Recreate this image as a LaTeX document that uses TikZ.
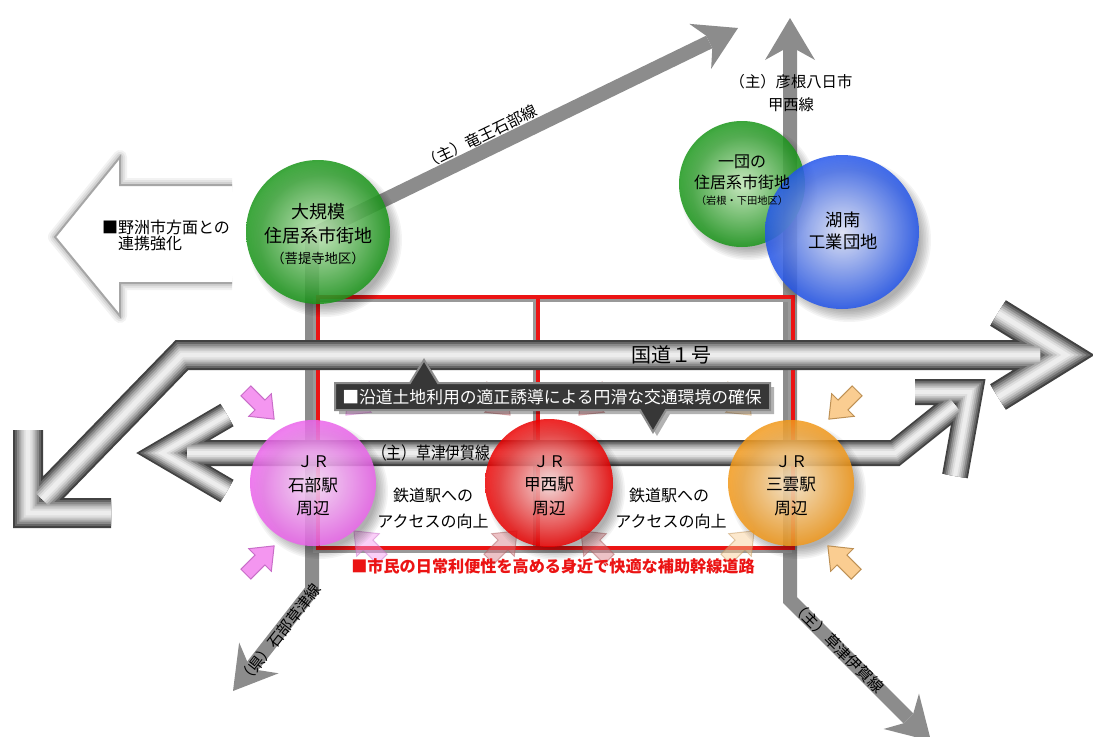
\documentclass[tikz,border=0pt]{standalone}
\usepackage{fontspec}
\usepackage{graphicx}
\newfontfamily\jp{Noto Sans CJK JP}
\usetikzlibrary{calc}
\definecolor{roadgray}{RGB}{140,140,140}
\definecolor{netred}{RGB}{235,20,20}
\definecolor{boxfill}{RGB}{55,55,55}
\definecolor{pinkA}{RGB}{244,150,240}
\definecolor{pinkB}{RGB}{200,110,200}
\definecolor{orA}{RGB}{250,205,145}
\definecolor{orB}{RGB}{190,145,85}
\definecolor{redA}{RGB}{215,120,130}
\definecolor{redB}{RGB}{170,90,90}
\definecolor{gIn}{RGB}{205,242,195}
\definecolor{gOut}{RGB}{25,150,25}
\definecolor{bIn}{RGB}{232,236,255}
\definecolor{bOut}{RGB}{35,85,235}
\definecolor{pIn}{RGB}{255,228,255}
\definecolor{pOut}{RGB}{235,100,235}
\definecolor{rIn}{RGB}{255,228,228}
\definecolor{rOut}{RGB}{235,0,0}
\definecolor{oIn}{RGB}{255,236,205}
\definecolor{oOut}{RGB}{242,152,25}
\newcommand\tubedraw[2]{\foreach \ff/\cc in {1/26,0.86/40,0.72/54,0.58/67,0.44/78,0.30/87,0.16/93}{\draw[line width=\ff*#1*0.75pt, color=white!\cc!black, line join=miter, miter limit=10] #2;}}
\newcommand\headat[2]{\fill[roadgray, shift={#1}, rotate=#2] (0,0) -- (-42,-25) -- (-32,-7) -- (-32,7) -- (-42,25) -- cycle;}
\newcommand\blockarrow[4]{\filldraw[fill=#3, draw=#4, line width=0.75pt, line join=miter, shift={#1}, rotate=#2] (-20,-7) -- (0,-7) -- (0,-16) -- (20,0) -- (0,16) -- (0,7) -- (-20,7) -- cycle;}
\newcommand\ball[5]{\foreach \kk in {0,...,7}{\fill[black, opacity=0.045] ({#1+7},{#2+8}) circle ({#3+5-1.6*\kk});}
  \shade[inner color=#4, outer color=#5, opacity=0.85] (#1,#2) circle (#3);}
\begin{document}
\begin{tikzpicture}[x=0.75pt,y=-0.75pt,
  every node/.style={inner sep=0pt, outer sep=0pt, font=\jp},
  road/.style={line width=10.5pt, draw=roadgray},
  redline/.style={line width=3pt, draw=netred},
  redshadow/.style={line width=3.5pt, draw=black!40}]
\useasboundingbox (0,0) rectangle (1093,736);
\clip (0,0) rectangle (1093,736);
\fill[white] (0,0) rectangle (1093,736);

% left hollow arrow
\foreach \ww/\oo in {14/0.05,10/0.06,6/0.08}{\draw[black, opacity=\oo, line width=\ww*0.75pt, line join=round] (232,185) -- (120,185) -- (120,157) -- (55,237) -- (120,316) -- (120,283) -- (232,283);}
\filldraw[fill=white, draw=black!35, line width=1.5pt, line join=miter] (232,185) -- (120,185) -- (120,157) -- (55,237) -- (120,316) -- (120,283) -- (232,283);

% gray roads
\coordinate (gC) at (318,232);
\coordinate (tipA) at (738,28);
\draw[road] (gC) -- ($(tipA)!24pt!(gC)$);
\headat{(tipA)}{25.9}
\coordinate (tipV) at (790,18);
\coordinate (bendR) at (790,600);
\coordinate (tipR) at (931,741);
\draw[road, line join=miter] ($(tipV)!24pt!(bendR)$) -- (bendR) -- ($(tipR)!24pt!(bendR)$);
\headat{(tipV)}{90}
\headat{(tipR)}{-45}
\coordinate (lTop) at (312,232);
\coordinate (bendL) at (312,590);
\coordinate (tipL) at (233,691);
\draw[road, line join=miter] (lTop) -- (bendL) -- ($(tipL)!24pt!(bendL)$);
\headat{(tipL)}{232}

% red network
\draw[redshadow, shift={(-3,3)}] (318,297) rectangle (793,548) (538,297) -- (538,548);
\draw[redline] (318,297) rectangle (793,548) (538,297) -- (538,548);

% tubes
\tubedraw{30}{(28,430) -- (28,513) -- (111,513) (42,499) -- (182,355) -- (1040,355) (998,313) -- (1066,355) -- (998,397)}
\tubedraw{26}{(227,415) -- (162,453) -- (227,491) (187,453) -- (895,453) -- (955,405) (915,392) -- (970,392) -- (955,476)}

% faded small arrows
\begin{scope}[opacity=0.45]
\blockarrow{(360,401)}{-135}{pinkA}{pinkB}
\blockarrow{(496,401)}{-45}{redA}{redB}
\blockarrow{(593,401)}{-135}{redA}{redB}
\blockarrow{(737,401)}{-45}{orA}{orB}
\blockarrow{(368,545)}{135}{pinkA}{pinkB}
\blockarrow{(503,545)}{45}{redA}{redB}
\blockarrow{(595,545)}{135}{redA}{redB}
\blockarrow{(740,545)}{45}{orA}{orB}
\end{scope}

% callout
\fill[black, opacity=0.3, shift={(4,4)}] (335,383) -- (410,383) -- (424,360) -- (438,383) -- (770,383) -- (770,410) -- (666,410) -- (653,432) -- (640,410) -- (335,410) -- cycle;
\filldraw[fill=boxfill, draw=black!45, line width=1.5pt, line join=miter] (335,383) -- (410,383) -- (424,360) -- (438,383) -- (770,383) -- (770,410) -- (666,410) -- (653,432) -- (640,410) -- (335,410) -- cycle;
\node[text=white, font=\jp\fontsize{12.6}{14}\selectfont] (callout) at (552,397) {■沿道土地利用の適正誘導による円滑な交通環境の確保};

% balls
\ball{318}{232}{72}{gIn}{gOut}
\ball{742}{184}{63}{gIn}{gOut}
\ball{842}{232}{77}{bIn}{bOut}
\ball{313}{483}{63}{pIn}{pOut}
\ball{549}{483}{64}{rIn}{rOut}
\ball{791}{483}{63}{oIn}{oOut}

% station arrows
\blockarrow{(260,405)}{-45}{pinkA}{pinkB}
\blockarrow{(260,560)}{45}{pinkA}{pinkB}
\blockarrow{(843,405)}{-135}{orA}{orB}
\blockarrow{(842,560)}{135}{orA}{orB}

% texts
\node[font=\jp\fontsize{13.5}{16}\selectfont] (g1a) at (318,212) {大規模};
\node[font=\jp\fontsize{13.5}{16}\selectfont] (g1b) at (318,236) {住居系市街地};
\node[font=\jp\fontsize{10}{12}\selectfont] (g1c) at (318,258) {（菩提寺地区）};
\node[font=\jp\fontsize{12}{14}\selectfont] (g2a) at (742,162) {一団の};
\node[font=\jp\fontsize{12}{14}\selectfont] (g2b) at (742,182) {住居系市街地};
\node[font=\jp\fontsize{7.7}{9}\selectfont] (g2c) at (742,201) {（岩根・下田地区）};
\node[font=\jp\fontsize{13}{15}\selectfont] (b1) at (843,220) {湖南};
\node[font=\jp\fontsize{13}{15}\selectfont] (b2) at (843,242) {工業団地};
\foreach \xx/\nm/\id in {313/石部駅/s1,549/甲西駅/s2,791/三雲駅/s3}{
  \node[font=\jp\fontsize{12}{14}\selectfont] (\id a) at (\xx,462) {ＪＲ};
  \node[font=\jp\fontsize{12.5}{14}\selectfont] (\id b) at (\xx,485) {\nm};
  \node[font=\jp\fontsize{12.5}{14}\selectfont] (\id c) at (\xx,508) {周辺};}
\node[font=\jp\fontsize{11.5}{13}\selectfont] (hk1) at (791,82) {（主）彦根八日市};
\node[font=\jp\fontsize{11.5}{13}\selectfont] (hk2) at (791,105) {甲西線};
\node[anchor=west, font=\jp\fontsize{12}{14}\selectfont] (ys1) at (102,227) {■野洲市方面との};
\node[anchor=west, font=\jp\fontsize{12}{14}\selectfont] (ys2) at (118,243.5) {連携強化};
\node[font=\jp\fontsize{12}{14}\selectfont] (ac1) at (433,495) {鉄道駅への};
\node[font=\jp\fontsize{12}{14}\selectfont] (ac2) at (433,521) {アクセスの向上};
\node[font=\jp\fontsize{12}{14}\selectfont] (ac3) at (669,495) {鉄道駅への};
\node[font=\jp\fontsize{12}{14}\selectfont] (ac4) at (671,521) {アクセスの向上};
\node[font=\jp\fontsize{15}{17}\selectfont] (r1) at (671,355) {国道１号};
\node (kiLbl) at (431,453) {\scalebox{0.85}[1]{\fontsize{13}{15}\selectfont （主）草津伊賀線}};
\node[rotate=25.9, font=\jp\fontsize{11.7}{13}\selectfont] (ryLbl) at (480,137) {（主）竜王石部線};
\node[rotate=52, font=\jp\fontsize{11.5}{13}\selectfont] (ikLbl) at (280,634) {（県）石部草津線};
\node[rotate=-45, font=\jp\fontsize{11.5}{13}\selectfont] (ki2Lbl) at (838,647) {（主）草津伊賀線};
\node[text=netred, font=\jp\bfseries\fontsize{12.1}{14}\selectfont] (redTxt) at (553,566) {■市民の日常利便性を高める身近で快適な補助幹線道路};
\end{tikzpicture}
\end{document}
